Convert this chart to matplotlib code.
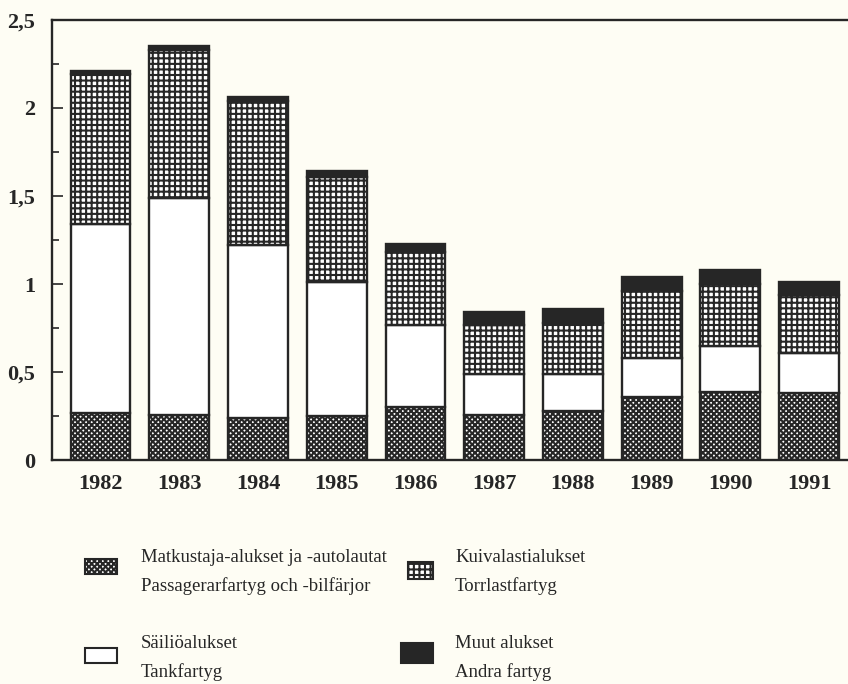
import matplotlib
matplotlib.use("Agg")
import matplotlib.pyplot as plt
from matplotlib.patches import Rectangle
from matplotlib.ticker import MultipleLocator, FixedLocator

years = ["1982", "1983", "1984", "1985", "1986", "1987", "1988", "1989", "1990", "1991"]
passenger = [0.27, 0.26, 0.24, 0.25, 0.30, 0.26, 0.28, 0.36, 0.39, 0.38]
tankers = [1.07, 1.23, 0.98, 0.76, 0.47, 0.23, 0.21, 0.22, 0.26, 0.23]
dry_cargo = [0.85, 0.84, 0.82, 0.60, 0.41, 0.28, 0.29, 0.38, 0.35, 0.33]
other = [0.02, 0.02, 0.02, 0.03, 0.05, 0.07, 0.08, 0.08, 0.08, 0.07]

y_ticks = [0, 0.5, 1, 1.5, 2, 2.5]
y_labels = ["0", "0,5", "1", "1,5", "2", "2,5"]

bg = "#fefdf4"
ink = "#262626"

plt.rcParams["hatch.linewidth"] = 1.5
plt.rcParams["hatch.color"] = ink
plt.rcParams["font.family"] = ["Liberation Serif", "DejaVu Serif"]

fig = plt.figure(figsize=(8.48, 6.84), dpi=100, facecolor=bg)
ax = fig.add_axes([0.061, 0.327, 0.96, 0.644])
ax.set_facecolor(bg)

x = list(range(len(years)))
w = 0.76
style = dict(width=w, edgecolor=ink, linewidth=1.7)

ax.bar(x, passenger, facecolor="white", hatch="xxxxxx", **style)
ax.bar(x, tankers, bottom=passenger, facecolor="white", **style)
bottom3 = [a + b for a, b in zip(passenger, tankers)]
ax.bar(x, dry_cargo, bottom=bottom3, facecolor="white", hatch="+++", **style)
bottom4 = [a + b for a, b in zip(bottom3, dry_cargo)]
ax.bar(x, other, bottom=bottom4, facecolor=ink, **style)

ax.set_xlim(-0.62, 9.72)
ax.set_ylim(0, 2.5)
ax.set_xticks(x)
ax.set_xticklabels(years, fontsize=16, fontweight="bold", color=ink)
ax.tick_params(axis="x", length=0, pad=10)

ax.yaxis.set_major_locator(FixedLocator(y_ticks))
ax.set_yticklabels(y_labels, fontsize=16, fontweight="bold", color=ink)
ax.yaxis.set_minor_locator(MultipleLocator(0.25))
ax.tick_params(axis="y", which="major", direction="in", length=8, width=1.2, color=ink, pad=12)
ax.tick_params(axis="y", which="minor", direction="in", length=5, width=1.2, color=ink)

for side in ["left", "bottom", "top"]:
    ax.spines[side].set_linewidth(1.7)
    ax.spines[side].set_color(ink)
ax.spines["right"].set_visible(False)

# legend drawn in figure pixels
W, H = 848, 684

def box(x0, y0, x1, y1, **kw):
    fig.patches.append(Rectangle((x0 / W, 1 - y1 / H), (x1 - x0) / W, (y1 - y0) / H,
                                 transform=fig.transFigure, edgecolor=ink,
                                 linewidth=1.5, **kw))

def label(xp, yp, text):
    fig.text(xp / W, 1 - yp / H, text, fontsize=13.5, color=ink, va="baseline", ha="left")

box(85, 559, 117, 574, facecolor="white", hatch="xxxxxx")
label(141, 562, "Matkustaja-alukset ja -autolautat")
label(141, 591, "Passagerarfartyg och -bilfärjor")

box(408, 562, 433, 579, facecolor="white", hatch="+++")
label(455, 562, "Kuivalastialukset")
label(455, 591, "Torrlastfartyg")

box(85, 648, 117, 663, facecolor="white")
label(141, 648, "Säiliöalukset")
label(141, 677, "Tankfartyg")

box(401, 643, 433, 663, facecolor=ink)
label(455, 648, "Muut alukset")
label(455, 677, "Andra fartyg")

fig.savefig("out.png", dpi=100, facecolor=bg)
